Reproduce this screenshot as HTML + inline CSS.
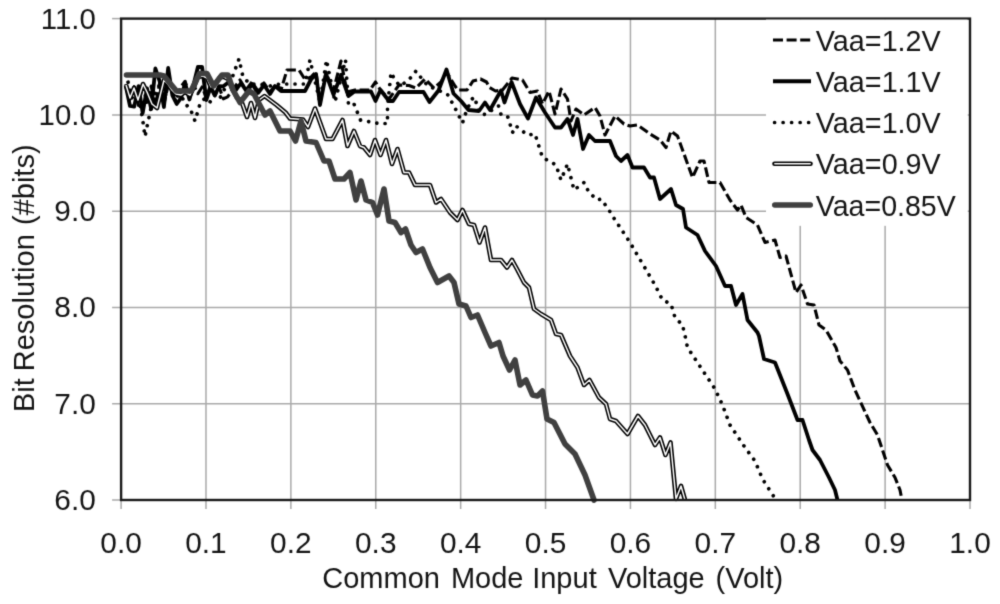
<!DOCTYPE html>
<html lang="en"><head><meta charset="utf-8"><title>Bit Resolution vs Common Mode Input Voltage</title>
<style>
html,body{margin:0;padding:0;background:#fff;}
body{width:1000px;height:604px;overflow:hidden;}
svg{display:block;}
text{font-family:"Liberation Sans",sans-serif;fill:#141414;}
</style></head><body>
<svg width="1000" height="604" viewBox="0 0 1000 604">
<defs><filter id="soft" x="0" y="0" width="1000" height="604" filterUnits="userSpaceOnUse" color-interpolation-filters="sRGB"><feConvolveMatrix order="3" kernelMatrix="0.0367 0.1915 0.0367 0.1915 1 0.1915 0.0367 0.1915 0.0367" divisor="1.9128" edgeMode="duplicate" preserveAlpha="true"/></filter></defs>
<g filter="url(#soft)">
<rect x="0" y="0" width="1000" height="604" fill="#fff"/>

<g stroke="#a9a9a9" stroke-width="1.5" fill="none">
<line x1="205.99" y1="18.6" x2="205.99" y2="509"/>
<line x1="290.88" y1="18.6" x2="290.88" y2="509"/>
<line x1="375.77" y1="18.6" x2="375.77" y2="509"/>
<line x1="460.66" y1="18.6" x2="460.66" y2="509"/>
<line x1="545.55" y1="18.6" x2="545.55" y2="509"/>
<line x1="630.44" y1="18.6" x2="630.44" y2="509"/>
<line x1="715.33" y1="18.6" x2="715.33" y2="509"/>
<line x1="800.22" y1="18.6" x2="800.22" y2="509"/>
<line x1="885.11" y1="18.6" x2="885.11" y2="509"/>
<line x1="112.1" y1="114.88" x2="970" y2="114.88"/>
<line x1="112.1" y1="211.16" x2="970" y2="211.16"/>
<line x1="112.1" y1="307.44" x2="970" y2="307.44"/>
<line x1="112.1" y1="403.72" x2="970" y2="403.72"/>
<line x1="112.1" y1="18.6" x2="121.1" y2="18.6"/>
<line x1="112.1" y1="500" x2="121.1" y2="500"/>
<line x1="121.1" y1="500" x2="121.1" y2="509"/>
<line x1="970" y1="500" x2="970" y2="509"/>
</g>
<polyline points="125.7,84.1 130,99.2 134.2,86.7 138.5,105.3 142.7,84.6 147,103.9 151.2,86.1 155.4,106.1 159.7,82.6 163.9,104.2 168.2,84.8 172.4,87.2 176.7,98.5 180.9,86.7 185.1,81.3 189.4,95.4 193.6,85.3 197.9,93.7 202.1,87 206.3,97.8 210.6,84.7 214.8,95.7 219.1,87.1 223.3,98.8 227.6,96.9 234,88 240,80 246,90 252,82 258,91 264,83 270,92 276,84 281,90 287,70 299,70 305,79.5 311,77 316,72 320,103 326,72 333,92 341,61 347,92 355,90 370,90 375.5,82 380.5,90 389,99 399,85 409,85.5 416,88 425,79 434,88 441,82 446.5,72 455,86 458,90 467,90 473,81 480.5,79 486.5,82 489.5,87.5 495.5,91 502.5,90 512,78 522.5,80 530,92.5 537.5,91 542.5,104 549,91 555,114 561,89 567.5,99 571,121 576,109 584,115 595,107.5 600,116 605,135 615,116 624,124 630,126 637.5,125 650,134 660,140 666,147.5 671,131 677.5,136 692.5,177.5 700,161 704,161 709,182.5 720,182.5 730,200 737.5,210 741,205 746,217.5 757.5,225 765,242.5 775,240 780,257.5 786,256 796,292.5 801,285 807.5,304 814,305 819,325 826,330 836,347.5 840,361 847.5,370 855,390 870,422.5 877.5,435 887.5,465 895,477.5 900,490 902,500" fill="none" stroke="#000" stroke-width="3.1" stroke-dasharray="9.6 3.6" stroke-linejoin="round"/>
<polyline points="125.7,85.6 130,106 134.2,106.7 138.5,86.1 142.7,113 147,88.3 151.2,109 155.4,68.5 159.7,81.4 163.9,107 168.2,68 172.4,95.4 176.7,104 180.9,98.2 185.1,83.1 189.4,99.5 193.6,84.4 197.9,67 202.1,67 206.3,100 210.6,87.4 214.8,95.5 219.1,86.2 223.3,86.3 227.6,83.1 230,82.5 236,90 241,83 247,92 252,84 258,93 264,85 270,94 275,86 281,91 305,91 311,79.5 316,74 320,105 326,74 333.5,94.5 341,75 348.5,96 354.5,91.5 371,91.5 375.5,101 380.5,90 389,101 393,101 399,92 423.5,92 429.5,102 438.5,90.5 446.5,69.5 453.5,93.5 461,101 468.5,110 479,111 485,102.5 490,110 501,90.5 504.5,102.5 511.5,82 520,104 528,118.5 536,97.5 545,112.5 555,127.5 561,127.5 567.5,119 573,135 577.5,119 583,149 589,135 595,141 610,141 616,156 621,161 627.5,155 632.5,167.5 644,167.5 650,177.5 654,177.5 660,199 671,189 676,205 683,209 686,227.5 697.5,235 705,251 716,266 725,286 731,286 736,305 742.5,294 747.5,320 757.5,332.5 759,336 764,359 775,362.5 787.5,394 797.5,420 802.5,420 809,440 812.5,450 820,460 829,477.5 835,490 837.5,500" fill="none" stroke="#000" stroke-width="3.8" stroke-linejoin="round"/>
<polyline points="127,90 128,82 132,98 137,86 140,104 143,122 145,136.5 148,122 151,108 155,94 160,84 165,96 170,86 175,100 180,92 185,104 190,108 195,121 200,104 205,98 210,102 215,94 220,98 226,86 232,78 239,59 243,77 250,84 260,84 270,86 280,84 290,84 300,84 305,84 310,60 320,102 326.5,60 335,102 345.5,60 348.5,105 354,104 360.5,120 378.5,123.5 387.5,123.5 387.5,107 391,72.5 395,80 400,86 406,82 411.5,77 416,71 420.5,77 428,86 438,90 448,95 455,108 458.5,115 462.5,123 465,115 471.5,99.5 474.5,97 477,105.5 479,113 485,114.5 498.5,106 501,114.5 507.5,116 510,124 512.5,132.5 516,126 527.5,135 535,134 542.5,157.5 556,165 561,180 567.5,164 574,190 584,182.5 589,192.5 597.5,200 601,199 609,210 612.5,216 630,242.5 655,285 662.5,300 671,304 675,317.5 682.5,325 686,340 687.5,347.5 715,389 722.5,405 730,425 745,447.5 755,461 762.5,479 776,500" fill="none" stroke="#000" stroke-width="3.7" stroke-dasharray="0.01 8.3" stroke-linecap="round" stroke-linejoin="round"/>
<polyline points="126,85 130,98 134,88 138,100 143,84 147,92 152,104 157,108 160,96 164,80 168,84 172,90 176,94 181,95 185,92 190,95 194,87 198,77 203,76 207,78 211,87 216,83 220,77 224,77 228,79 232,88 237,98 241,100 247,117 251,103 255,118 259,100 264.5,96 276.5,105 285.5,112.5 290,118.5 303,119.5 308,127 315,108.5 326,139 332.5,139 342.5,120 347.5,146 354,131 360,146 364,147.5 370,155 375,140 380.5,155 386,140 392,164 397.5,149 404,172.5 409,172.5 415,185 430,185 436,202.5 441,199 450,212.5 457.5,220 462.5,210 469,224 474,225 479.5,242.5 485,227.5 491,260 501,260 507,267.5 512,260 517.5,270 524,282.5 529,287.5 534,309 541,314 551,320 556,334 561,335 570,356 577.5,367.5 584,385 589.5,380 599,397.5 606,404 610,419 616,421 627.5,434 638,416 645,425 655,445 660,437.5 665.5,455 670.5,442.5 676,499 681,486 685,500" fill="none" stroke="#000" stroke-width="4.6" stroke-linejoin="round"/>
<polyline points="126,85 130,98 134,88 138,100 143,84 147,92 152,104 157,108 160,96 164,80 168,84 172,90 176,94 181,95 185,92 190,95 194,87 198,77 203,76 207,78 211,87 216,83 220,77 224,77 228,79 232,88 237,98 241,100 247,117 251,103 255,118 259,100 264.5,96 276.5,105 285.5,112.5 290,118.5 303,119.5 308,127 315,108.5 326,139 332.5,139 342.5,120 347.5,146 354,131 360,146 364,147.5 370,155 375,140 380.5,155 386,140 392,164 397.5,149 404,172.5 409,172.5 415,185 430,185 436,202.5 441,199 450,212.5 457.5,220 462.5,210 469,224 474,225 479.5,242.5 485,227.5 491,260 501,260 507,267.5 512,260 517.5,270 524,282.5 529,287.5 534,309 541,314 551,320 556,334 561,335 570,356 577.5,367.5 584,385 589.5,380 599,397.5 606,404 610,419 616,421 627.5,434 638,416 645,425 655,445 660,437.5 665.5,455 670.5,442.5 676,499 681,486 685,500" fill="none" stroke="#fff" stroke-width="1.5" stroke-linejoin="round"/>
<polyline points="126.5,75 160,75 164,76 176.5,91 191,91 199.5,73.5 207,73.5 213.5,86 222,75 228,75 233,90 240,102.5 249,91 254,94 265,115 270,111 280,131 290,131 295.5,141 301,121 306,141 316,142.5 324,161 329,161 335,179 344,179 350,172.5 356,200 361,181 366,200 372.5,202.5 377.5,215 384,189 389,221 395,222.5 401,232.5 405.5,229 411,245 416,252.5 422.5,249 430,267.5 437.5,282.5 449,276 454,282.5 459,304 466,306 471,317.5 477.5,315 485,332.5 491,346 499,342.5 503,356 509.5,370 515,360 520,385 526,380 532.5,395 537.5,396 542.5,391 547,419 554,422.5 565,444 575,454 585,475 594,500" fill="none" stroke="#404040" stroke-width="5.6" stroke-linejoin="round" stroke-linecap="round"/>
<rect x="766" y="19.6" width="201.5" height="206" fill="#fff"/>
<rect x="121.1" y="18.6" width="848.9" height="481.4" fill="none" stroke="#1a1a1a" stroke-width="2.4"/>
<rect x="766" y="19.6" width="201.5" height="206" fill="#fff"/>
<line x1="773" y1="40" x2="811" y2="40" stroke="#000" stroke-width="3.1" stroke-dasharray="10 3.6"/>
<line x1="773" y1="81.25" x2="811" y2="81.25" stroke="#000" stroke-width="4"/>
<line x1="774.6" y1="122.5" x2="811" y2="122.5" stroke="#000" stroke-width="3.7" stroke-dasharray="0.01 8.5" stroke-linecap="round"/>
<line x1="774.5" y1="163.75" x2="810.5" y2="163.75" stroke="#000" stroke-width="4.6" stroke-linecap="round"/>
<line x1="774.8" y1="163.75" x2="810.2" y2="163.75" stroke="#fff" stroke-width="1.5" stroke-linecap="round"/>
<line x1="774.8" y1="205" x2="810.2" y2="205" stroke="#404040" stroke-width="5.6" stroke-linecap="round"/>
<text x="815.8" y="50.6" font-size="29" textLength="125" lengthAdjust="spacingAndGlyphs">Vaa=1.2V</text>
<text x="815.8" y="91.85" font-size="29" textLength="125" lengthAdjust="spacingAndGlyphs">Vaa=1.1V</text>
<text x="815.8" y="133.1" font-size="29" textLength="125" lengthAdjust="spacingAndGlyphs">Vaa=1.0V</text>
<text x="815.8" y="174.35" font-size="29" textLength="125" lengthAdjust="spacingAndGlyphs">Vaa=0.9V</text>
<text x="815.8" y="215.6" font-size="29" textLength="140" lengthAdjust="spacingAndGlyphs">Vaa=0.85V</text>
<text x="40.8" y="28.5" font-size="29" textLength="55" lengthAdjust="spacingAndGlyphs">11.0</text>
<text x="38.6" y="124.78" font-size="29" textLength="57.2" lengthAdjust="spacingAndGlyphs">10.0</text>
<text x="54.3" y="221.06" font-size="29" textLength="41.5" lengthAdjust="spacingAndGlyphs">9.0</text>
<text x="54.3" y="317.34" font-size="29" textLength="41.5" lengthAdjust="spacingAndGlyphs">8.0</text>
<text x="54.3" y="413.62" font-size="29" textLength="41.5" lengthAdjust="spacingAndGlyphs">7.0</text>
<text x="54.3" y="509.9" font-size="29" textLength="41.5" lengthAdjust="spacingAndGlyphs">6.0</text>
<text x="100.35" y="552.8" font-size="29" textLength="41.5" lengthAdjust="spacingAndGlyphs">0.0</text>
<text x="185.24" y="552.8" font-size="29" textLength="41.5" lengthAdjust="spacingAndGlyphs">0.1</text>
<text x="270.13" y="552.8" font-size="29" textLength="41.5" lengthAdjust="spacingAndGlyphs">0.2</text>
<text x="355.02" y="552.8" font-size="29" textLength="41.5" lengthAdjust="spacingAndGlyphs">0.3</text>
<text x="439.91" y="552.8" font-size="29" textLength="41.5" lengthAdjust="spacingAndGlyphs">0.4</text>
<text x="524.8" y="552.8" font-size="29" textLength="41.5" lengthAdjust="spacingAndGlyphs">0.5</text>
<text x="609.69" y="552.8" font-size="29" textLength="41.5" lengthAdjust="spacingAndGlyphs">0.6</text>
<text x="694.58" y="552.8" font-size="29" textLength="41.5" lengthAdjust="spacingAndGlyphs">0.7</text>
<text x="779.47" y="552.8" font-size="29" textLength="41.5" lengthAdjust="spacingAndGlyphs">0.8</text>
<text x="864.36" y="552.8" font-size="29" textLength="41.5" lengthAdjust="spacingAndGlyphs">0.9</text>
<text x="949.25" y="552.8" font-size="29" textLength="41.5" lengthAdjust="spacingAndGlyphs">1.0</text>
<text transform="translate(0,588.2) scale(1.0,1)" font-size="29"><tspan x="322.30">Common</tspan> <tspan x="450.90">Mode</tspan> <tspan x="532.20">Input</tspan> <tspan x="607.90">Voltage</tspan> <tspan x="715.60">(Volt)</tspan></text>
<text transform="translate(34.2,412) rotate(-90) scale(1.0,1)" font-size="29"><tspan x="0.00">Bit</tspan> <tspan x="40.80">Resolution</tspan> <tspan x="187.00">(#bits)</tspan></text>
</g></svg></body></html>
